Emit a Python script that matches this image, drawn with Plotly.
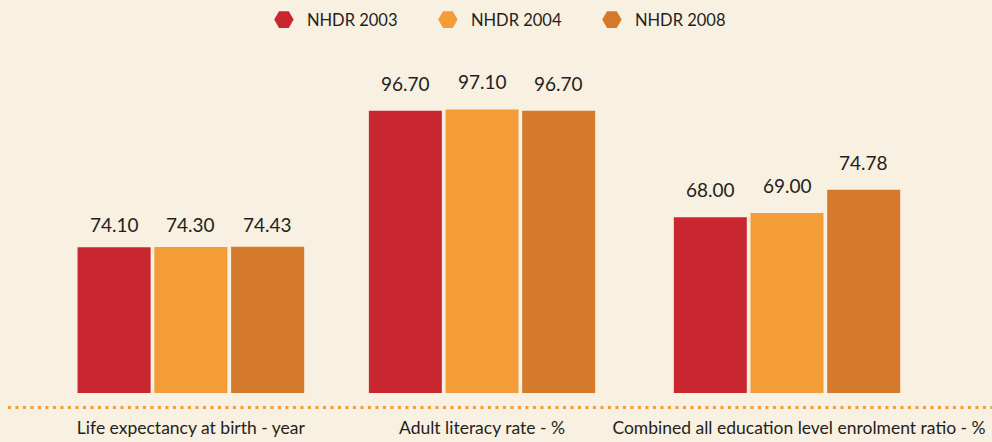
import plotly.graph_objects as go

# Indicator groups along the bottom
categories = [
    "Life expectancy at birth - year",
    "Adult literacy rate - %",
    "Combined all education level enrolment ratio - %",
]
series = ["NHDR 2003", "NHDR 2004", "NHDR 2008"]

# Values per report, one entry per indicator
nhdr_2003 = [74.10, 96.70, 68.00]
nhdr_2004 = [74.30, 97.10, 69.00]
nhdr_2008 = [74.43, 96.70, 74.78]
values = [nhdr_2003, nhdr_2004, nhdr_2008]

colors = ["#C9272F", "#F39C38", "#D5792D"]
bg = "#F8F0E0"
ink = "#231F20"
font_family = "Lato, 'Open Sans', sans-serif"

# Each indicator sits on its own panel with its own value scale
domains = [[0.0763, 0.3085], [0.3700, 0.6018], [0.6774, 0.9093]]
y_ranges = [[0, 179.6], [0, 120.9], [24.65, 111.68]]
label_shift = [0, 0, 12]
value_lift = [9, 14, 14]
slot_px = 76.7

fig = go.Figure()

for g, cat in enumerate(categories):
    suffix = "" if g == 0 else str(g + 1)
    for s, name in enumerate(series):
        v = values[s][g]
        fig.add_trace(go.Bar(
            x=[cat], y=[v], name=name,
            marker=dict(color=colors[s], line=dict(width=0)),
            offsetgroup=str(s), showlegend=False,
            xaxis="x" + suffix, yaxis="y" + suffix,
            hovertemplate=name + ": %{y:.2f}<extra></extra>",
        ))
        fig.add_annotation(
            x=cat, y=v, xref="x" + suffix, yref="y" + suffix,
            text=f"{v:.2f}", showarrow=False,
            xshift=(s - 1) * slot_px, yanchor="bottom", yshift=value_lift[g],
            font=dict(family=font_family, size=19, color=ink),
        )

# Legend entries with hexagon markers
for s, name in enumerate(series):
    fig.add_trace(go.Scatter(
        x=[None], y=[None], mode="markers", name=name,
        marker=dict(symbol="hexagon2", size=16, color=colors[s],
                    line=dict(color=colors[s], width=3)),
    ))

layout = dict(
    width=992, height=442,
    paper_bgcolor=bg, plot_bgcolor=bg,
    margin=dict(l=0, r=0, t=40, b=49, autoexpand=False),
    barmode="group", bargap=0, bargroupgap=0.048,
    showlegend=True,
    legend=dict(
        orientation="h", x=0.511, xanchor="center",
        yref="container", y=0.955, yanchor="middle",
        font=dict(family=font_family, size=16.5, color=ink),
        entrywidth=113, entrywidthmode="pixels", itemwidth=36,
        bgcolor="rgba(0,0,0,0)",
    ),
    font=dict(family=font_family, color=ink),
)

for g in range(3):
    suffix = "" if g == 0 else str(g + 1)
    layout["xaxis" + suffix] = dict(
        domain=domains[g], range=[-0.5, 0.5], anchor="y" + suffix,
        showgrid=False, zeroline=False, showline=False, ticks="",
        tickfont=dict(family=font_family, size=17.5, color=ink),
        ticklabelstandoff=22, ticklabelshift=label_shift[g],
        automargin=False, fixedrange=True,
    )
    layout["yaxis" + suffix] = dict(
        domain=[0, 1], range=y_ranges[g], anchor="x" + suffix,
        visible=False, automargin=False, fixedrange=True,
    )

fig.update_layout(**layout)

# Dotted rule under the bars
fig.add_shape(
    type="line", xref="paper", yref="paper",
    x0=0.008, x1=1.0, y0=-0.041, y1=-0.041,
    line=dict(color="#F39C38", width=3, dash="3px,4.5px"),
)

fig.write_html("out.html", config={"displayModeBar": False})
